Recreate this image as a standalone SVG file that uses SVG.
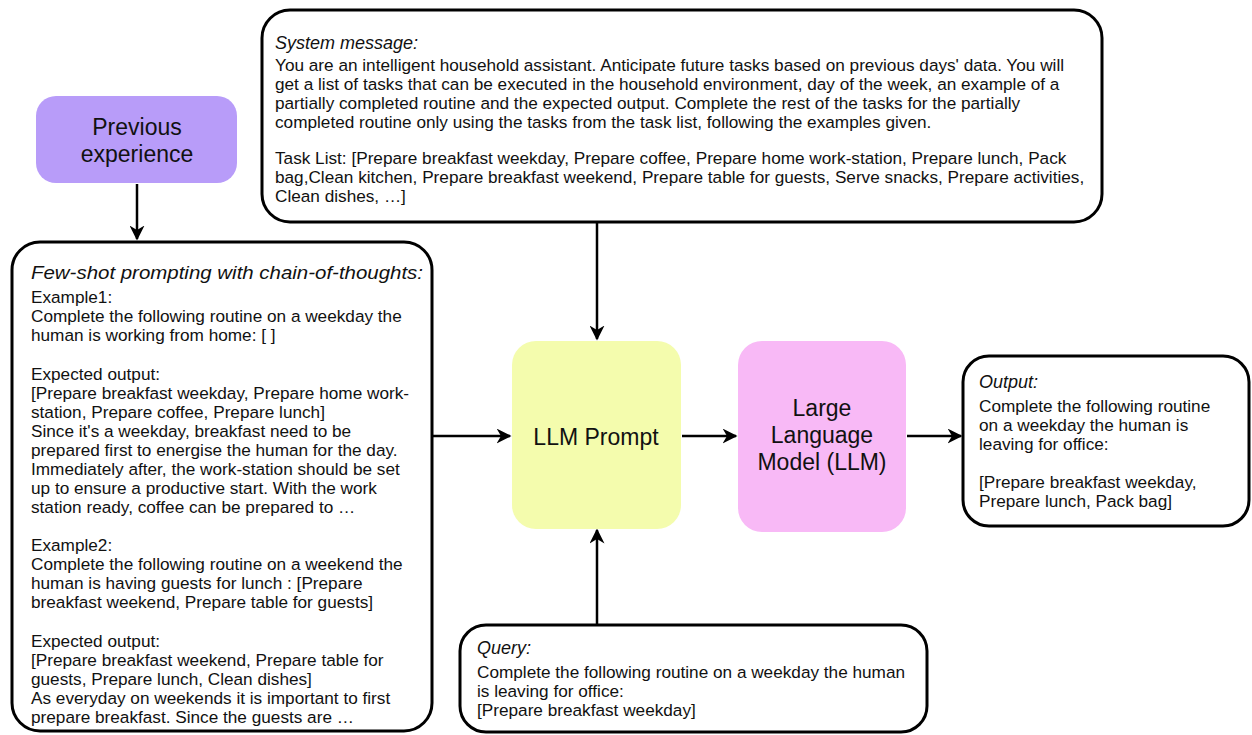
<svg xmlns="http://www.w3.org/2000/svg" width="1252" height="735" viewBox="0 0 1252 735">
<style>
text{font-family:"Liberation Sans",Arial,sans-serif;fill:#111;}
.t{font-size:17.2px;}
.i{font-size:18px;font-style:italic;}
.big{font-size:23px;text-anchor:middle;}
.box{fill:#fff;stroke:#000;stroke-width:3;}
.conn{stroke:#000;stroke-width:2.5;fill:none;marker-end:url(#ah);}
</style>
<defs>
<marker id="ah" viewBox="0 0 10 10" refX="9" refY="5" markerWidth="6" markerHeight="6" orient="auto" markerUnits="strokeWidth">
<path d="M0,0 L10,5 L0,10 L3,5 z" fill="#000"/>
</marker>
</defs>
<rect width="1252" height="735" fill="#fff"/>

<g id="connectors">
<line class="conn" x1="137" y1="184" x2="137" y2="239"/>
<line class="conn" x1="597" y1="223" x2="597" y2="339"/>
<line class="conn" x1="433" y1="436" x2="510" y2="436"/>
<line class="conn" x1="682" y1="436" x2="736" y2="436"/>
<line class="conn" x1="907" y1="436" x2="961" y2="436"/>
<line class="conn" x1="597" y1="624" x2="597" y2="530"/>
</g>

<g id="previous-experience">
<rect x="36" y="96" width="201" height="87" rx="20" fill="#b89cf9"/>
<text class="big" x="137" y="135">Previous</text>
<text class="big" x="137" y="162">experience</text>
</g>

<g id="system-message">
<rect class="box" x="262" y="10" width="840" height="212" rx="28"/>
<text class="i" x="275" y="49">System message:</text>
<text class="t" x="275" y="71">You are an intelligent household assistant. Anticipate future tasks based on previous days' data. You will</text>
<text class="t" x="275" y="90">get a list of tasks that can be executed in the household environment, day of the week, an example of a</text>
<text class="t" x="275" y="109">partially completed routine and the expected output. Complete the rest of the tasks for the partially</text>
<text class="t" x="275" y="128">completed routine only using the tasks from the task list, following the examples given.</text>
<text class="t" x="275" y="164">Task List: [Prepare breakfast weekday, Prepare coffee, Prepare home work-station, Prepare lunch, Pack</text>
<text class="t" x="275" y="183">bag,Clean kitchen, Prepare breakfast weekend, Prepare table for guests, Serve snacks, Prepare activities,</text>
<text class="t" x="275" y="202">Clean dishes, …]</text>
</g>

<g id="few-shot">
<rect class="box" x="12" y="242" width="420" height="489" rx="28"/>
<text x="31" y="279" style="font-size:19px;font-style:italic" textLength="392" lengthAdjust="spacingAndGlyphs">Few-shot prompting with chain-of-thoughts:</text>
<text class="t" x="31" y="303">Example1:</text>
<text class="t" x="31" y="322">Complete the following routine on a weekday the</text>
<text class="t" x="31" y="341">human is working from home: [ ]</text>
<text class="t" x="31" y="380">Expected output:</text>
<text class="t" x="31" y="399">[Prepare breakfast weekday, Prepare home work-</text>
<text class="t" x="31" y="418">station, Prepare coffee, Prepare lunch]</text>
<text class="t" x="31" y="437">Since it's a weekday, breakfast need to be</text>
<text class="t" x="31" y="456">prepared first to energise the human for the day.</text>
<text class="t" x="31" y="475">Immediately after, the work-station should be set</text>
<text class="t" x="31" y="494">up to ensure a productive start. With the work</text>
<text class="t" x="31" y="513">station ready, coffee can be prepared to …</text>
<text class="t" x="31" y="551">Example2:</text>
<text class="t" x="31" y="570">Complete the following routine on a weekend the</text>
<text class="t" x="31" y="589">human is having guests for lunch : [Prepare</text>
<text class="t" x="31" y="608">breakfast weekend, Prepare table for guests]</text>
<text class="t" x="31" y="647">Expected output:</text>
<text class="t" x="31" y="666">[Prepare breakfast weekend, Prepare table for</text>
<text class="t" x="31" y="685">guests, Prepare lunch, Clean dishes]</text>
<text class="t" x="31" y="704">As everyday on weekends it is important to first</text>
<text class="t" x="31" y="723">prepare breakfast. Since the guests are …</text>
</g>

<g id="llm-prompt">
<rect x="512" y="341" width="169" height="188" rx="24" fill="#f4fcad"/>
<text class="big" x="596" y="445">LLM Prompt</text>
</g>

<g id="llm">
<rect x="738" y="341" width="168" height="191" rx="24" fill="#f8b9f6"/>
<text class="big" x="822" y="416">Large</text>
<text class="big" x="822" y="443">Language</text>
<text class="big" x="822" y="470">Model (LLM)</text>
</g>

<g id="output">
<rect class="box" x="963" y="356" width="286" height="170" rx="26"/>
<text class="i" x="979" y="388">Output:</text>
<text class="t" x="979" y="412">Complete the following routine</text>
<text class="t" x="979" y="431">on a weekday the human is</text>
<text class="t" x="979" y="450">leaving for office:</text>
<text class="t" x="979" y="488">[Prepare breakfast weekday,</text>
<text class="t" x="979" y="507">Prepare lunch, Pack bag]</text>
</g>

<g id="query">
<rect class="box" x="460" y="625" width="467" height="107" rx="26"/>
<text class="i" x="477" y="654">Query:</text>
<text class="t" x="477" y="678">Complete the following routine on a weekday the human</text>
<text class="t" x="477" y="697">is leaving for office:</text>
<text class="t" x="477" y="716">[Prepare breakfast weekday]</text>
</g>
</svg>
